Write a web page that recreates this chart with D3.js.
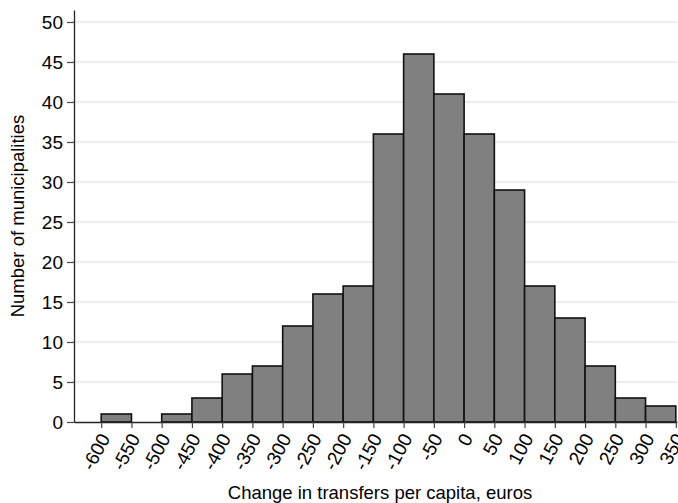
<!DOCTYPE html>
<html>
<head>
<meta charset="utf-8">
<script src="https://cdn.jsdelivr.net/npm/d3@7"></script>
<style>
  html, body { margin: 0; padding: 0; background: #fff; }
  svg text { font-family: "Liberation Sans", Arial, sans-serif; fill: #000; }
</style>
</head>
<body>
<svg id="chart" width="678" height="503"></svg>
<script>
// Histogram bins: left edge of each 50-euro bin and its count
const binStarts = [-600, -550, -500, -450, -400, -350, -300, -250, -200, -150,
                   -100, -50, 0, 50, 100, 150, 200, 250, 300];
const counts    = [1, 0, 1, 3, 6, 7, 12, 16, 17, 36,
                   46, 41, 36, 29, 17, 13, 7, 3, 2];
const binWidth = 50;
const xTicks = [-600, -550, -500, -450, -400, -350, -300, -250, -200, -150,
                -100, -50, 0, 50, 100, 150, 200, 250, 300, 350];
const yTicks = [0, 5, 10, 15, 20, 25, 30, 35, 40, 45, 50];

const svg = d3.select("#chart");

const x = d3.scaleLinear().domain([-645, 352]).range([74, 677]);
const y = d3.scaleLinear().domain([0, 51.5]).range([422, 10]);

// horizontal gridlines
svg.append("g")
  .selectAll("line")
  .data(yTicks.filter(d => d > 0))
  .join("line")
  .attr("x1", x.range()[0]).attr("x2", x.range()[1])
  .attr("y1", d => y(d)).attr("y2", d => y(d))
  .attr("stroke", "#e6e6e6")
  .attr("stroke-width", 1.5);

// bars
const bins = binStarts.map((s, i) => ({ x0: s, x1: s + binWidth, n: counts[i] }));
svg.append("g")
  .selectAll("rect")
  .data(bins.filter(d => d.n > 0))
  .join("rect")
  .attr("x", d => x(d.x0))
  .attr("width", d => x(d.x1) - x(d.x0))
  .attr("y", d => y(d.n))
  .attr("height", d => y(0) - y(d.n))
  .attr("fill", "#808080")
  .attr("stroke", "#111")
  .attr("stroke-width", 1.6);

// x axis
const xAxis = svg.append("g")
  .attr("transform", `translate(0,${y(0)})`)
  .call(d3.axisBottom(x).tickValues(xTicks).tickSize(6).tickSizeOuter(0));
xAxis.select(".domain").attr("stroke", "#222").attr("stroke-width", 1.3);
xAxis.selectAll(".tick line").attr("stroke", "#444").attr("stroke-width", 1.2);
xAxis.selectAll(".tick text")
  .attr("font-size", 19)
  .attr("text-anchor", "end")
  .attr("dy", "0.35em")
  .attr("y", 0)
  .attr("transform", "translate(3,13) rotate(-62)")
  .text(d => String(d));

// y axis
const yAxis = svg.append("g")
  .attr("transform", `translate(${x.range()[0]},0)`)
  .call(d3.axisLeft(y).tickValues(yTicks).tickSize(7).tickSizeOuter(0).tickPadding(4));
yAxis.select(".domain").attr("stroke", "#222").attr("stroke-width", 1.3);
yAxis.selectAll(".tick line").attr("stroke", "#444").attr("stroke-width", 1.2);
yAxis.selectAll(".tick text").attr("font-size", 19);

// axis titles
svg.append("text")
  .attr("x", 380).attr("y", 499)
  .attr("text-anchor", "middle")
  .attr("font-size", 18.5)
  .text("Change in transfers per capita, euros");

svg.append("text")
  .attr("transform", "translate(24,216) rotate(-90)")
  .attr("text-anchor", "middle")
  .attr("font-size", 18.5)
  .text("Number of municipalities");
</script>
</body>
</html>
